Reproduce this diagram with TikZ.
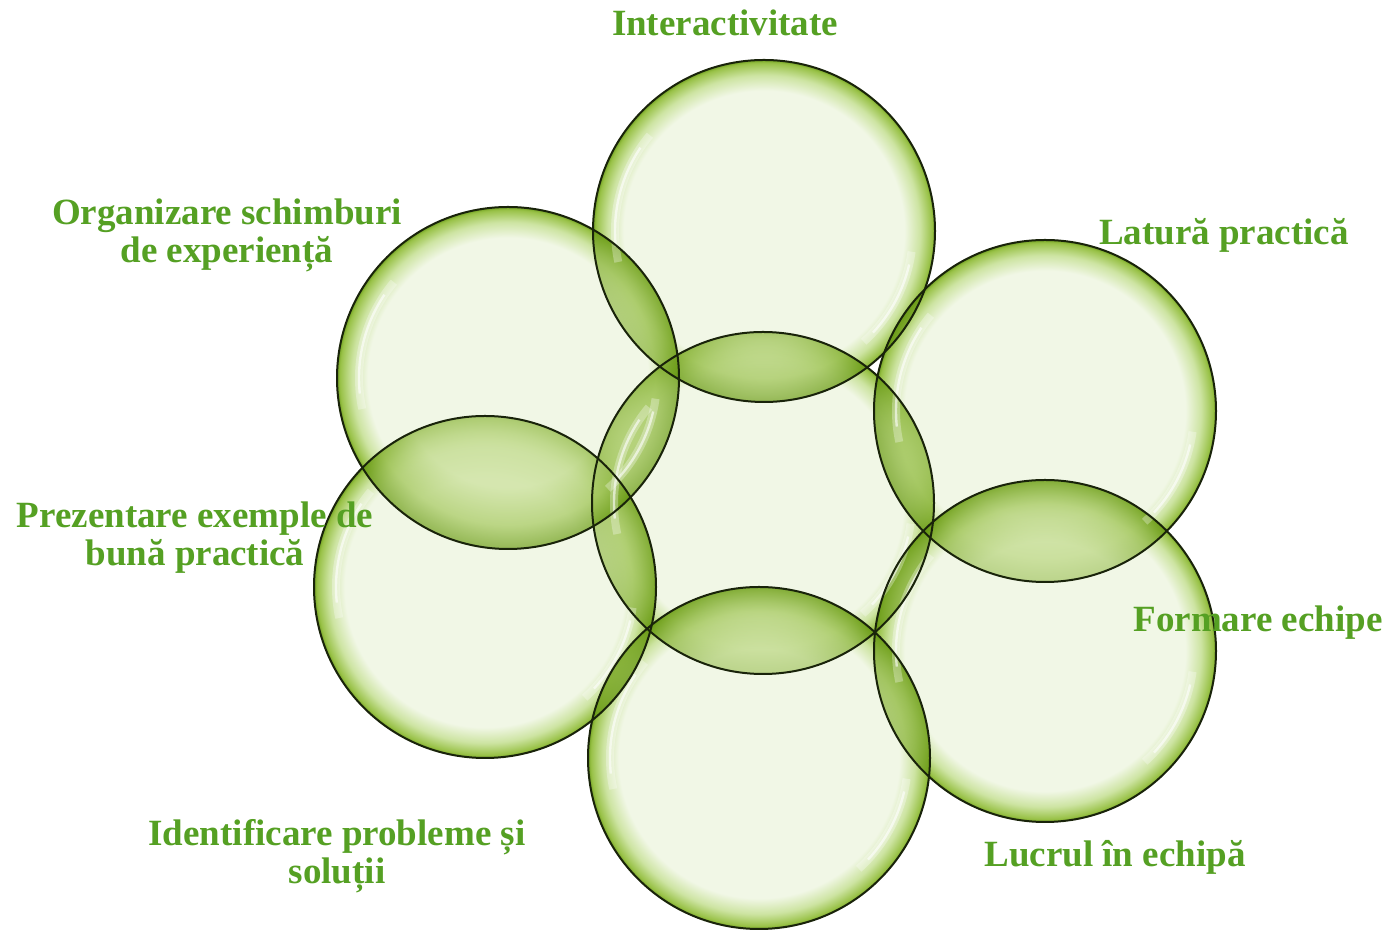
\documentclass[tikz,border=0pt]{standalone}
\usepackage{fontspec}
\setmainfont{Liberation Serif}
\definecolor{topicgreen}{RGB}{85,160,35}
\definecolor{palegreen}{RGB}{241,247,230}
\definecolor{rimlight}{RGB}{205,228,162}
\definecolor{rimmid}{RGB}{152,193,70}
\definecolor{rimdark}{RGB}{115,162,35}
\definecolor{lensmid}{RGB}{208,228,165}
\definecolor{lensrim}{RGB}{165,200,95}
\definecolor{lensdark}{RGB}{100,150,15}
\definecolor{outline}{RGB}{25,35,10}
\pgfdeclareradialshading{bubble}{\pgfpointorigin}{color(0bp)=(palegreen); color(20.5bp)=(palegreen); color(22.8bp)=(rimlight); color(24.6bp)=(rimmid); color(25bp)=(rimdark); color(50bp)=(rimdark)}
\pgfdeclareradialshading{lens}{\pgfpointorigin}{color(0bp)=(lensmid); color(16bp)=(lensmid); color(21.5bp)=(lensrim); color(25bp)=(lensdark); color(50bp)=(lensdark)}
\begin{document}
\begin{tikzpicture}[x=0.5pt, y=0.5pt,
    topic/.style = {text=topicgreen, font=\bfseries\fontsize{18.5}{19}\selectfont, align=center, inner sep=0pt},
    ring/.style = {draw=outline, line width=1pt}]
    \fill[white] (0,0) rectangle (1392,930);
    \useasboundingbox (0,0) rectangle (1392,930);
    \coordinate (c) at (763,427);
    \coordinate (t) at (764,699);
    \coordinate (ur) at (1045,519);
    \coordinate (lr) at (1045,279);
    \coordinate (b) at (759,172);
    \coordinate (ll) at (485,343);
    \coordinate (ul) at (508,552);
    % bubbles
    \foreach \n in {t,ul,ur,c,ll,lr,b}
        \shade[shading=bubble] (\n) circle[radius=85.5pt];
    % overlaps
    \foreach \a/\b in {c/t,t/c,c/ur,ur/c,c/lr,lr/c,c/b,b/c,c/ll,ll/c,c/ul,ul/c,
                       t/ul,ul/t,t/ur,ur/t,ur/lr,lr/ur,lr/b,b/lr,b/ll,ll/b,ll/ul,ul/ll} {
        \begin{scope}
            \clip (\b) circle[radius=85.5pt];
            \shade[shading=lens, fill opacity=0.6] (\a) circle[radius=85.5pt];
        \end{scope}
    }
    % highlights
    \foreach \n in {t,ul,ur,c,ll,lr,b} {
        \draw[white, line width=4pt, opacity=0.3] ([shift={(140:149)}]\n) arc[start angle=140, end angle=192, radius=74.5pt];
        \draw[white, line width=1.2pt, opacity=0.6] ([shift={(146:149)}]\n) arc[start angle=146, end angle=186, radius=74.5pt];
        \draw[white, line width=4pt, opacity=0.3] ([shift={(-48:149)}]\n) arc[start angle=-48, end angle=-8, radius=74.5pt];
        \draw[white, line width=1.2pt, opacity=0.6] ([shift={(-43:149)}]\n) arc[start angle=-43, end angle=-13, radius=74.5pt];
    }
    \foreach \n in {t,ul,ur,c,ll,lr,b}
        \draw[ring] (\n) circle[radius=85.5pt];
    % labels
    \node[topic, anchor=base] (interact) at (725,894) {Interactivitate};
    \node[topic] (organiz) at (227,694.5) {Organizare schimburi\\de experiență};
    \node[topic, anchor=base] (latura) at (1224,685) {Latură practică};
    \node[topic] (prezent) at (195,392.5) {Prezentare exemple de\\bună practică};
    \node[topic, anchor=base] (formare) at (1258,298) {Formare echipe};
    \node[topic, anchor=base] (lucrul) at (1115,63) {Lucrul în echipă};
    \node[topic] (identif) at (337,73.5) {Identificare probleme și\\soluții};
\end{tikzpicture}
\end{document}
